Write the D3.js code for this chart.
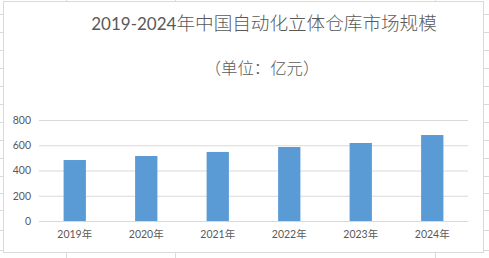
<!DOCTYPE html>
<html>
<head>
<meta charset="UTF-8">
<title>2019-2024年中国自动化立体仓库市场规模</title>
<script src="https://cdn.jsdelivr.net/npm/d3@7/dist/d3.min.js"></script>
<style>
body { margin: 0; background: #fff; }
svg { display: block; }
</style>
</head>
<body>
<div id="chart"></div>
<script>
var w = 489, h = 258;

// data
var years = ['2019年', '2020年', '2021年', '2022年', '2023年', '2024年'];
var values = [483, 515, 547, 586, 618, 681];
var yTicks = [0, 200, 400, 600, 800];
var titleNum = '2019-2024';
var titleText = '年中国自动化立体仓库市场规模';
var subTitle = '（单位：亿元）';

// spreadsheet cell lines behind the chart object
var sheetRows = [14, 32, 50, 68, 86, 104, 122, 140, 158, 176, 193, 210, 230, 250];
var sheetCols = [66, 175, 435];

var textColor = '#595959', gridColor = '#d9d9d9', barColor = '#5b9bd5';
var latin = 'Lato, "Noto Sans CJK SC", sans-serif';
var cjk = '"Noto Sans CJK SC", sans-serif';

var svg = d3.select('#chart')
            .append('svg')
            .attr('width', w)
            .attr('height', h);

// sheet grid
svg.selectAll('.row')
   .data(sheetRows)
   .enter()
   .append('line')
   .attr('x1', 0).attr('x2', w)
   .attr('y1', function(d){ return d + 0.5; })
   .attr('y2', function(d){ return d + 0.5; })
   .attr('stroke', '#dadada');

svg.selectAll('.col')
   .data(sheetCols)
   .enter()
   .append('line')
   .attr('y1', 0).attr('y2', h)
   .attr('x1', function(d){ return d + 0.5; })
   .attr('x2', function(d){ return d + 0.5; })
   .attr('stroke', '#dadada');

// chart frame
svg.append('rect')
   .attr('x', 3.5).attr('y', 1.5)
   .attr('width', 480).attr('height', 251)
   .attr('fill', '#fff')
   .attr('stroke', '#d9d9d9');

// title
var title = svg.append('text')
   .attr('x', 264)
   .attr('y', 30)
   .attr('text-anchor', 'middle')
   .attr('fill', textColor);
title.append('tspan')
   .attr('font-family', latin)
   .attr('font-size', '17px')
   .text(titleNum);
title.append('tspan')
   .attr('font-family', cjk)
   .attr('font-size', '18.6px')
   .attr('font-weight', 300)
   .text(titleText);

svg.append('text')
   .attr('x', 262)
   .attr('y', 74)
   .attr('text-anchor', 'middle')
   .attr('font-family', cjk)
   .attr('font-size', '16.4px')
   .attr('font-weight', 300)
   .attr('fill', textColor)
   .text(subTitle);

// scales
var x = d3.scaleBand()
          .domain(years)
          .range([39, 468])
          .paddingInner(0.688)
          .paddingOuter(0.344);

var y = d3.scaleLinear()
          .domain([0, 800])
          .range([221, 120]);

// gridlines + y labels
var yAxis = svg.append('g')
   .attr('transform', 'translate(39,0)')
   .call(d3.axisLeft(y).tickValues(yTicks).tickSize(-(468 - 39)).tickPadding(8));
yAxis.select('.domain').remove();
yAxis.selectAll('.tick line').attr('stroke', gridColor);
yAxis.selectAll('.tick text')
     .attr('fill', textColor)
     .attr('font-family', latin)
     .attr('font-size', '10.5px');

// bars
svg.selectAll('.bar')
   .data(values)
   .enter()
   .append('rect')
   .attr('x', function(d, i){ return x(years[i]); })
   .attr('width', x.bandwidth())
   .attr('y', function(d){ return y(d); })
   .attr('height', function(d){ return y(0) - y(d); })
   .attr('fill', barColor);

// x axis
var xAxis = svg.append('g')
   .attr('transform', 'translate(0,' + y(0) + ')')
   .call(d3.axisBottom(x).tickSize(0).tickPadding(10));
xAxis.select('.domain').attr('stroke', gridColor);
xAxis.selectAll('.tick text')
     .attr('fill', textColor)
     .attr('font-family', latin)
     .attr('font-size', '10.5px');
</script>
</body>
</html>
